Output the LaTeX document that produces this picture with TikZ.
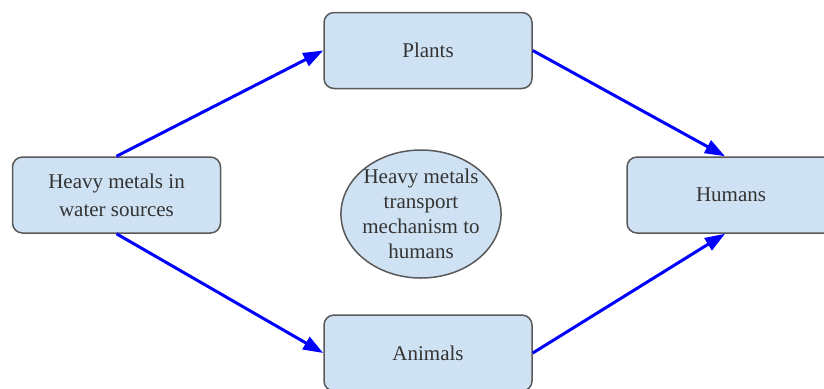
\documentclass[tikz,border=0pt]{standalone}
\usepackage{fontspec}
\setmainfont{Liberation Serif}
\newfontfamily\labelfont{Liberation Serif}
\usetikzlibrary{positioning,shapes.geometric,arrows.meta}
\definecolor{boxfill}{HTML}{CFE2F3}
\definecolor{boxline}{HTML}{595959}
\definecolor{boxtext}{HTML}{333333}
\begin{document}
\begin{tikzpicture}[x=0.5pt, y=-0.5pt,
        >={Triangle[length=10pt,width=7pt]},
        stagenode/.style={rectangle, rounded corners=5pt, draw=boxline, fill=boxfill, line width=0.75pt, text=boxtext, align=center, minimum width=104pt, minimum height=38pt, inner sep=2pt, font=\labelfont\fontsize{10.5}{14}\selectfont},
        titlenode/.style={ellipse, draw=boxline, fill=boxfill, line width=0.75pt, text=boxtext, align=center, minimum width=77.5pt, minimum height=64pt, inner xsep=-1pt, inner ysep=-0.5pt, font=\labelfont\fontsize{10.5}{12.5}\selectfont},
        flow/.style={->, draw=blue, line width=1.5pt},
]
        \useasboundingbox (0,0) rectangle (824,388);
        \node[stagenode] (water) at (116.5,195) {Heavy metals in\\water sources};
        \node[stagenode] (plants) at (428,50.5) {Plants};
        \node[stagenode] (animals) at (428,353) {Animals};
        \node[stagenode] (humans) at (731,195) {Humans};
        \node[titlenode] (title) at (421,214) {Heavy metals\\transport\\mechanism to\\humans};

        \draw[flow] (water.north) -- (plants.west);
        \draw[flow] (water.south) -- (animals.west);
        \draw[flow] (plants.east) -- ([xshift=-3pt]humans.north);
        \draw[flow] (animals.east) -- ([xshift=-3pt]humans.south);
    \end{tikzpicture}
\end{document}
